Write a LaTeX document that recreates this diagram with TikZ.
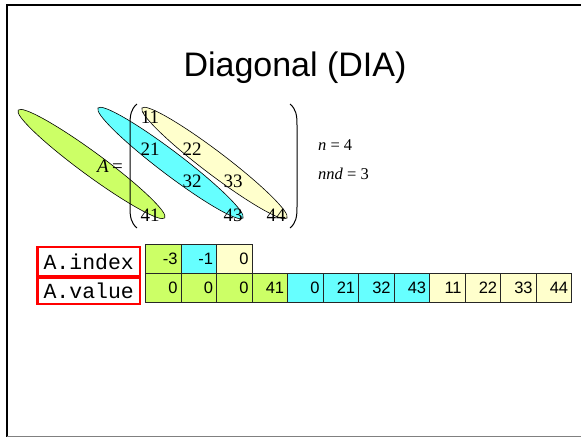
\documentclass[tikz,border=0pt]{standalone}
\usepackage{fontspec}
\usetikzlibrary{shapes.geometric}
\setmainfont{Liberation Sans}
\newfontfamily\tnr{Liberation Serif}
\newfontfamily\cour{Liberation Mono}
\definecolor{dgreen}{HTML}{CCFF66}
\definecolor{dcyan}{HTML}{66FFFF}
\definecolor{dyellow}{HTML}{FFFFCC}
\begin{document}
\begin{tikzpicture}[x=1pt,y=-1pt,
  cell/.style={draw=black!85, line width=0.8pt, rectangle, minimum height=29pt,
    text width=29pt, inner xsep=3.25pt, inner ysep=0pt, align=right,
    font=\fontsize{16.5}{16.5}\selectfont, anchor=north west},
  lab/.style={draw=red, line width=2.5pt, rectangle, minimum width=102.5pt,
    inner sep=0pt, anchor=north west, font=\cour\fontsize{21.5}{21.5}\selectfont},
  ent/.style={font=\tnr\fontsize{19}{19}\selectfont, inner sep=0pt},
  diag/.style={draw=black, line width=0.6pt, ellipse, minimum width=182pt, minimum height=23pt, inner sep=0pt},
  paren/.style={draw=black, line width=1pt}]
\useasboundingbox (0,0) rectangle (581,437);
% frame
\draw[line width=2.5pt] (581,5) -- (7,5) -- (7,437);
\draw[gray, line width=1pt] (7,436.5) -- (581,436.5);
% title
\node[anchor=base, font=\fontsize{34}{34}\selectfont, inner sep=0pt] (title) at (295,76) {Diagonal (DIA)};
% diagonal ellipses
\node[diag, fill=dgreen, rotate=-36.3] (eg) at (91.5,164) {};
\node[diag, fill=dcyan, rotate=-37.2] (ec) at (170.5,163) {};
\node[diag, fill=dyellow, rotate=-37.2] (ey) at (214.5,163) {};
% parentheses
\draw[paren] (137,104) .. controls (131,109) and (130,115) .. (130,125) -- (130,207) .. controls (130,217) and (131,223) .. (137,228);
\draw[paren] (290,104) .. controls (296,109) and (297,115) .. (297,125) -- (297,207) .. controls (297,217) and (296,223) .. (290,228);
% A =
\node[ent] (Aeq) at (110,166) {\textit{A}\,=};
% matrix entries
\node[ent] (m11) at (150,117) {11};
\node[ent] (m21) at (150,149) {21};
\node[ent] (m22) at (192,149) {22};
\node[ent] (m32) at (192,181) {32};
\node[ent] (m33) at (233,181) {33};
\node[ent] (m41) at (150,215) {41};
\node[ent] (m43) at (233,215) {43};
\node[ent] (m44) at (276,215) {44};
% n, nnd
\node[anchor=base west, inner sep=0pt, font=\tnr\fontsize{16.5}{16.5}\selectfont] (nn) at (318,150) {\textit{n} = 4};
\node[anchor=base west, inner sep=0pt, font=\tnr\fontsize{16.5}{16.5}\selectfont] (nnd) at (318,179) {\textit{nnd} = 3};
% labels
\node[lab, minimum height=29.5pt] (lindex) at (36.25,245.5) {A.index};
\node[lab, minimum height=26pt] (lvalue) at (36.25,276.5) {A.value};
% index row
\foreach \v/\c [count=\i from 0] in {-3/dgreen,-1/dcyan,0/dyellow}
  \node[cell, fill=\c] (ix\i) at (145+35.5*\i,244) {\v};
% value row
\foreach \v/\c [count=\i from 0] in {0/dgreen,0/dgreen,0/dgreen,41/dgreen,0/dcyan,21/dcyan,32/dcyan,43/dcyan,11/dyellow,22/dyellow,33/dyellow,44/dyellow}
  \node[cell, fill=\c] (vx\i) at (145+35.5*\i,273) {\v};
\end{tikzpicture}
\end{document}
